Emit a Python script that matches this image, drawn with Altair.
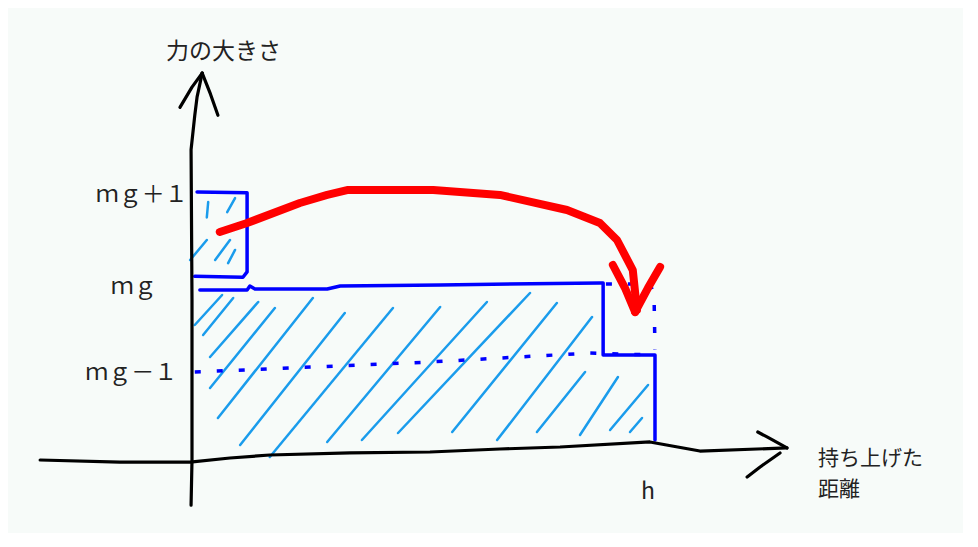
import altair as alt
import pandas as pd

# Units: distance as a fraction of h (0 .. 1), force in units where mg-1 = 1, mg = 2, mg+1 = 3

# ---- hand-drawn black axes ----
yaxis_x = [-0.002, 0.0, 0.0, -0.002, 0.006, 0.011, 0.022]
yaxis_y = [-0.57, -0.06, 1.76, 3.47, 3.86, 4.07, 4.34]
yleft_x = [-0.026, 0.0, 0.022]
yleft_y = [3.95, 4.18, 4.34]
yright_x = [0.056, 0.04, 0.022]
yright_y = [3.86, 4.1, 4.34]

xaxis_x = [-0.328, -0.156, -0.004, 0.082, 0.168, 0.341, 0.514, 0.665, 0.795, 0.989, 1.097, 1.285]
xaxis_y = [-0.057, -0.08, -0.08, -0.034, 0.0, 0.023, 0.034, 0.068, 0.091, 0.148, 0.045, 0.08]
xup_x = [1.222, 1.242, 1.285]
xup_y = [0.261, 0.205, 0.08]
xlow_x = [1.27, 1.227, 1.199]
xlow_y = [0.023, -0.136, -0.25]

# ---- blue force profile (solid) ----
box_x = [0.006, 0.11, 0.119, 0.119, 0.011]
box_y = [2.03, 2.02, 2.08, 2.98, 2.99]
step_x = [0.017, 0.119, 0.125, 0.136, 0.292, 0.32, 0.536, 0.881, 0.888, 0.888, 1.0, 1.0]
step_y = [1.875, 1.875, 1.92, 1.886, 1.886, 1.92, 1.932, 1.955, 1.955, 1.136, 1.136, 0.17]

# ---- blue dotted guides ----
dot1_x = [0.006, 0.514, 0.86, 1.0]
dot1_y = [0.943, 1.057, 1.159, 1.136]
dot2_x = [0.894, 0.99, 0.998, 1.0]
dot2_y = [1.943, 1.943, 1.8, 1.2]

# ---- light-blue hatching (start -> end) ----
hx1 = [0.032, 0.076, -0.004, 0.050, 0.078,
       0.006, 0.024, 0.039, 0.039, 0.056, 0.104, 0.168, 0.292, 0.367, 0.445,
       0.562, 0.659, 0.745, 0.838, 0.903, 0.946]
hy1 = [2.70, 2.76, 2.216, 2.216, 2.18,
       1.477, 1.364, 1.114, 0.761, 0.420, 0.114, -0.023, 0.148, 0.170, 0.25,
       0.261, 0.170, 0.261, 0.227, 0.284, 0.261]
hx2 = [0.035, 0.093, 0.032, 0.082, 0.093,
       0.065, 0.089, 0.143, 0.179, 0.261, 0.330, 0.434, 0.536, 0.637, 0.730,
       0.788, 0.864, 0.849, 0.920, 0.985, 0.972]
hy2 = [2.875, 2.92, 2.443, 2.443, 2.33,
       1.818, 1.784, 1.739, 1.670, 1.784, 1.614, 1.670, 1.682, 1.739, 1.841,
       1.727, 1.568, 0.943, 0.886, 0.795, 0.420]

# ---- red arrow ----
red_x = [0.060, 0.119, 0.233, 0.292, 0.335, 0.521, 0.665, 0.810, 0.881, 0.918, 0.952, 0.961]
red_y = [2.534, 2.636, 2.864, 2.955, 3.011, 3.011, 2.955, 2.784, 2.636, 2.443, 2.102, 1.648]
redl_x = [0.909, 0.935, 0.957]
redl_y = [2.159, 1.9, 1.625]
redr_x = [1.011, 0.985, 0.957]
redr_y = [2.136, 1.9, 1.625]

# ---- texts ----
lab_text = ["力の大きさ", "ｍｇ＋１", "ｍｇ", "ｍｇ－１", "h", "持ち上げた", "距離"]
lab_x = [0.068, -0.009, -0.076, -0.032, 0.985, 1.352, 1.352]
lab_y = [4.58, 2.955, 1.91, 0.93, -0.42, -0.05, -0.40]
lab_align = ["center", "right", "right", "right", "center", "left", "left"]
lab_size = [23, 23, 23, 23, 23, 21, 21]


def poly(parts):
    rows = []
    for name, xs_, ys_ in parts:
        for i, (a, b) in enumerate(zip(xs_, ys_)):
            rows.append({"part": name, "i": i, "x": a, "y": b})
    return pd.DataFrame(rows)


W, H = 955, 525
xs = alt.Scale(domain=[-0.3974, -0.3974 + W / 463], nice=False, zero=False)
ys = alt.Scale(domain=[5.0795 - H / 88, 5.0795], nice=False, zero=False)


def line_layer(df, color, width, dash=None):
    kw = dict(color=color, strokeWidth=width, strokeCap="round", strokeJoin="round")
    if dash:
        kw["strokeDash"] = dash
        kw["strokeCap"] = "butt"
    return alt.Chart(df).mark_line(**kw).encode(
        x=alt.X("x:Q", scale=xs, axis=None),
        y=alt.Y("y:Q", scale=ys, axis=None),
        detail="part:N",
        order="i:Q",
    )


hatch_df = pd.DataFrame({"x": hx1, "y": hy1, "x2": hx2, "y2": hy2})
hatch = alt.Chart(hatch_df).mark_rule(color="#1a9cec", strokeWidth=2.5, strokeCap="round").encode(
    x=alt.X("x:Q", scale=xs, axis=None),
    y=alt.Y("y:Q", scale=ys, axis=None),
    x2="x2:Q",
    y2="y2:Q",
)

blue = line_layer(poly([("box", box_x, box_y), ("step", step_x, step_y)]), "#0000ff", 3.5)
dots = line_layer(poly([("d1", dot1_x, dot1_y), ("d2", dot2_x, dot2_y)]), "#0000ff", 3.5, [6, 16])
axes = line_layer(poly([
    ("ya", yaxis_x, yaxis_y), ("yl", yleft_x, yleft_y), ("yr", yright_x, yright_y),
    ("xa", xaxis_x, xaxis_y), ("xu", xup_x, xup_y), ("xl", xlow_x, xlow_y),
]), "#000000", 3.2)
red = line_layer(poly([("r", red_x, red_y), ("rl", redl_x, redl_y), ("rr", redr_x, redr_y)]), "#ff0000", 8)

lab_df = pd.DataFrame({"t": lab_text, "x": lab_x, "y": lab_y, "al": lab_align, "fs": lab_size})
texts = []
for al in ["left", "center", "right"]:
    for fs in sorted(set(lab_size)):
        sub = lab_df[(lab_df["al"] == al) & (lab_df["fs"] == fs)]
        if len(sub) == 0:
            continue
        texts.append(
            alt.Chart(sub).mark_text(
                align=al, baseline="middle", font="Noto Sans CJK JP", fontSize=fs, color="#222222"
            ).encode(
                x=alt.X("x:Q", scale=xs, axis=None),
                y=alt.Y("y:Q", scale=ys, axis=None),
                text="t:N",
            )
        )

chart = alt.layer(hatch, blue, dots, axes, red, *texts).properties(
    width=W, height=H, padding=0,
    autosize=alt.AutoSizeParams(type="fit", contains="padding"),
    background="#f7fbf9",
).configure_view(stroke=None)

chart.save("out.html", embed_options={"renderer": "svg", "actions": False})
